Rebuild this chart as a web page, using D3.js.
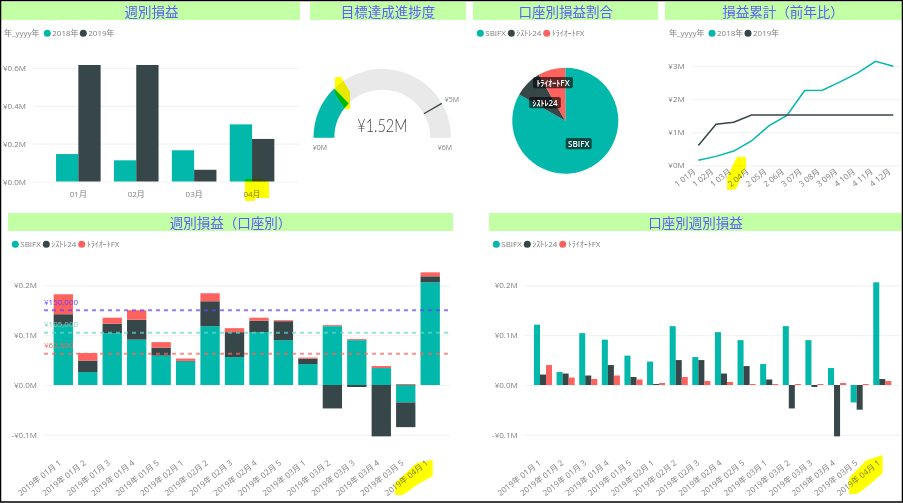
<!DOCTYPE html>
<html>
<head>
<meta charset="utf-8">
<script src="https://cdn.jsdelivr.net/npm/d3@7"></script>
<style>
html, body { margin: 0; padding: 0; background: #fff; }
svg { display: block; }
text { font-family: "Open Sans", "Noto Sans CJK JP", sans-serif; font-size: 8px; fill: #808080; }
.title { font-family: "Noto Sans CJK JP", sans-serif; font-size: 13.5px; font-weight: 400; fill: #5c5cff; text-anchor: middle; }
.axis .domain { display: none; }
.axis .tick line { stroke: #f3f3f3; stroke-width: 1.2; }
.highlight { fill: #ffff00; mix-blend-mode: multiply; }
</style>
</head>
<body>
<svg id="chart" width="903" height="503"></svg>
<script>
// monthly, by year
var months = ["01月", "02月", "03月", "04月"];
var years = ["2018年", "2019年"];
var monthly2018 = [0.145, 0.112, 0.165, 0.302];
var monthly2019 = [0.616, 0.616, 0.062, 0.225];
var monthlyTicks = [0, 0.2, 0.4, 0.6];

// gauge
var gaugeValue = 1.52;
var gaugeTarget = 5;
var gaugeMax = 6;

// account share
var accounts = ["SBIFX", "ｼｽﾄﾚ24", "ﾄﾗｲｵｰﾄFX"];
var accountShare = [1.265, 0.128, 0.127];

// cumulative
var cumMonths = ["1 01月", "1 02月", "1 03月", "2 04月", "2 05月", "2 06月", "3 07月", "3 08月", "3 09月", "4 10月", "4 11月", "4 12月"];
var cum2018 = [0.15, 0.27, 0.43, 0.735, 1.2, 1.51, 2.26, 2.27, 2.52, 2.79, 3.14, 2.99];
var cum2019 = [0.6, 1.24, 1.3, 1.52, 1.52, 1.52, 1.52, 1.52, 1.52, 1.52, 1.52, 1.52];
var cumTicks = [0, 1, 2, 3];

// weekly, by account
var weeks = ["2019年 01月 1", "2019年 01月 2", "2019年 01月 3", "2019年 01月 4", "2019年 01月 5",
	"2019年 02月 1", "2019年 02月 2", "2019年 02月 3", "2019年 02月 4", "2019年 02月 5",
	"2019年 03月 1", "2019年 03月 2", "2019年 03月 3", "2019年 03月 4", "2019年 03月 5", "2019年 04月 1"];
var weeklySbi = [0.121, 0.026, 0.104, 0.091, 0.059, 0.047, 0.118, 0.056, 0.106, 0.090, 0.042, 0.118, 0.090, 0.034, -0.035, 0.206];
var weeklySys = [0.021, 0.023, 0.019, 0.040, 0.016, 0.002, 0.050, 0.050, 0.023, 0.038, 0.011, -0.047, -0.004, -0.103, -0.0495, 0.012];
var weeklyTri = [0.040, 0.015, 0.012, 0.019, 0.011, 0.004, 0.016, 0.008, 0.006, 0.002, 0.002, 0.002, 0.002, 0.004, 0.002, 0.008];
var weeklyTicks = [-0.1, 0, 0.1, 0.2];

// reference lines
var refValues = [0.150, 0.105, 0.0625];
var refLabels = ["¥150,000", "¥105,000", "¥62,500"];

var teal = "#01b8aa", dark = "#374649", red = "#fd625e";
var accountColors = [teal, dark, red];
var yearColors = [teal, dark];
var refColors = ["#6a3fff", "#5fd8cc", "#fd625e"];
var refTextColors = ["#6a3fff", "#7fcdb8", "#fd625e"];

var svg = d3.select("#chart");

function fmtM1(d) { return (d < 0 ? "-" : "") + "¥" + Math.abs(d).toFixed(1) + "M"; }
function fmtM0(d) { return "¥" + d + "M"; }

function title(text, x0, x1, y0, y1, tx) {
	svg.append("rect").attr("x", x0).attr("y", y0).attr("width", x1 - x0).attr("height", y1 - y0).attr("fill", "#c2ffa5");
	svg.append("text").attr("class", "title").attr("x", tx).attr("y", y0 + 14.5).text(text);
}

function legend(y, head, items) {
	if (head) svg.append("text").attr("x", head).attr("y", y + 3).text("年_yyyy年");
	items.forEach(function(d) {
		svg.append("circle").attr("cx", d.cx).attr("cy", y).attr("r", 3.5).attr("fill", d.color);
		svg.append("text").attr("x", d.cx + 5).attr("y", y + 3).text(d.label);
	});
}

function yAxis(scale, ticks, fmt, x0, x1) {
	var g = svg.append("g").attr("class", "axis").attr("transform", "translate(" + x0 + ",0)")
		.call(d3.axisLeft(scale).tickValues(ticks).tickFormat(fmt).tickSize(x0 - x1).tickPadding(7));
	g.selectAll("text").attr("fill", null);
	return g;
}

function slantLabels(labels, xFn, y) {
	svg.append("g").selectAll("text").data(labels).enter().append("text")
		.attr("text-anchor", "end")
		.attr("transform", function(d) { return "translate(" + xFn(d) + "," + y + ") rotate(-38)"; })
		.text(function(d) { return d; });
}

// ---- monthly bars
var m1x = d3.scaleBand().domain(months).range([49.4, 281]).paddingInner(0.23).paddingOuter(0.115);
var m1y = d3.scaleLinear().domain([0, 0.6]).range([181.5, 68]);
title("週別損益", 1, 300, 2, 20, 151.6);
legend(33.3, 4, [
	{ cx: 47.3, color: teal, label: years[0] },
	{ cx: 83.3, color: dark, label: years[1] }
]);
yAxis(m1y, monthlyTicks, fmtM1, 33, 299);
[monthly2018, monthly2019].forEach(function(series, s) {
	svg.append("g").selectAll("rect").data(series).enter().append("rect")
		.attr("x", function(d, i) { return m1x(months[i]) + s * m1x.bandwidth() / 2; })
		.attr("width", m1x.bandwidth() / 2)
		.attr("y", function(d) { return m1y(d); })
		.attr("height", function(d) { return m1y(0) - m1y(d); })
		.attr("fill", yearColors[s]);
});
svg.append("g").selectAll("text").data(months).enter().append("text")
	.attr("text-anchor", "middle")
	.attr("x", function(d) { return m1x(d) + m1x.bandwidth() / 2; })
	.attr("y", 197)
	.text(function(d) { return d; });

// ---- gauge
var gaugeX = 382.3, gaugeY = 137.7, gaugeIn = 48, gaugeOut = 68.7;
var gaugeAngle = d3.scaleLinear().domain([0, gaugeMax]).range([-Math.PI / 2, Math.PI / 2]);
var gaugeArc = d3.arc().innerRadius(gaugeIn).outerRadius(gaugeOut).startAngle(-Math.PI / 2);
title("目標達成進捗度", 310, 466, 2, 20, 388);
var gauge = svg.append("g").attr("transform", "translate(" + gaugeX + "," + gaugeY + ")");
gauge.append("path").attr("d", gaugeArc({ endAngle: gaugeAngle(gaugeMax) })).attr("fill", "#e9e9e9");
gauge.append("path").attr("d", gaugeArc({ endAngle: gaugeAngle(gaugeValue) })).attr("fill", teal);
var ta = gaugeAngle(gaugeTarget);
gauge.append("line")
	.attr("x1", gaugeIn * Math.sin(ta)).attr("y1", -gaugeIn * Math.cos(ta))
	.attr("x2", gaugeOut * Math.sin(ta)).attr("y2", -gaugeOut * Math.cos(ta))
	.attr("stroke", dark).attr("stroke-width", 1.3);
// the original number is in a narrow face, squeeze to the same width
svg.append("text").attr("x", gaugeX - 25).attr("y", 131.5)
	.attr("textLength", 50).attr("lengthAdjust", "spacingAndGlyphs")
	.style("font-family", "Lato, sans-serif").style("font-weight", 300).style("font-size", "18px").style("fill", "#444")
	.text("¥" + gaugeValue.toFixed(2) + "M");
svg.append("text").attr("x", 320).attr("y", 149.5).attr("text-anchor", "middle").style("font-size", "7px").text(fmtM0(0));
svg.append("text").attr("x", 445).attr("y", 149.5).attr("text-anchor", "middle").style("font-size", "7px").text(fmtM0(gaugeMax));
svg.append("text").attr("x", 452).attr("y", 102.3).attr("text-anchor", "middle").style("font-size", "7px").text(fmtM0(gaugeTarget));

// ---- pie
var pieX = 565.3, pieY = 120.7, pieR = 53;
var pieArcs = d3.pie().sort(null)(accountShare);
var pieArc = d3.arc().innerRadius(0).outerRadius(pieR);
title("口座別損益割合", 473, 658, 2, 20, 565.7);
legend(33.3, 0, [
	{ cx: 480.3, color: teal, label: accounts[0] },
	{ cx: 511.3, color: dark, label: accounts[1] },
	{ cx: 546.7, color: red, label: accounts[2] }
]);
svg.append("g").attr("transform", "translate(" + pieX + "," + pieY + ")")
	.selectAll("path").data(pieArcs).enter().append("path")
	.attr("d", pieArc)
	.attr("fill", function(d, i) { return accountColors[i]; });
// pie labels do not sit on the arc centroid, offsets
var pieLabelOffsets = [[13.4, 23], [-20.3, -18], [-12.3, -38]];
var pieLabelWidths = [26, 31.7, 40];
accounts.forEach(function(name, i) {
	var cx = pieX + pieLabelOffsets[i][0], cy = pieY + pieLabelOffsets[i][1];
	svg.append("rect").attr("x", cx - pieLabelWidths[i] / 2).attr("y", cy - 5.6)
		.attr("width", pieLabelWidths[i]).attr("height", 11.2).attr("rx", 2)
		.attr("fill", "#000").attr("fill-opacity", 0.6);
	svg.append("text").attr("x", cx).attr("y", cy + 3).attr("text-anchor", "middle")
		.style("fill", "#fff").style("font-weight", 600).text(name);
});

// ---- cumulative lines
var cx = d3.scalePoint().domain(cumMonths).range([698.3, 893.3]);
var cy = d3.scaleLinear().domain([0, 3]).range([165.3, 66]);
title("損益累計（前年比）", 665, 902, 2, 20, 783);
legend(33.3, 669, [
	{ cx: 712, color: teal, label: years[0] },
	{ cx: 748, color: dark, label: years[1] }
]);
yAxis(cy, cumTicks, fmtM0, 691.7, 900.7);
var cumLine = d3.line().x(function(d, i) { return cx(cumMonths[i]); }).y(function(d) { return cy(d); });
[cum2018, cum2019].forEach(function(series, s) {
	svg.append("path").attr("d", cumLine(series)).attr("fill", "none")
		.attr("stroke", yearColors[s]).attr("stroke-width", 1.5);
});
slantLabels(cumMonths, function(d) { return cx(d) - 2; }, 172.5);

// ---- weekly stacked
var sx = d3.scaleBand().domain(weeks).range([51.07, 442.43]).paddingInner(0.21).paddingOuter(0.105);
var wy = d3.scaleLinear().domain([-0.1, 0.2]).range([434.85, 285.3]);
title("週別損益（口座別）", 8, 453, 213, 231, 230.5);
legend(244.3, 0, [
	{ cx: 15.3, color: teal, label: accounts[0] },
	{ cx: 46.3, color: dark, label: accounts[1] },
	{ cx: 81.7, color: red, label: accounts[2] }
]);
yAxis(wy, weeklyTicks, fmtM1, 44, 449.3);
var weekRows = weeks.map(function(w, i) { return { week: w, a: weeklySbi[i], b: weeklySys[i], c: weeklyTri[i] }; });
var stacked = d3.stack().keys(["a", "b", "c"]).offset(d3.stackOffsetDiverging)(weekRows);
svg.append("g").selectAll("g").data(stacked).enter().append("g")
	.attr("fill", function(d, i) { return accountColors[i]; })
	.selectAll("rect").data(function(d) { return d; }).enter().append("rect")
	.attr("x", function(d) { return sx(d.data.week); })
	.attr("width", sx.bandwidth())
	.attr("y", function(d) { return wy(Math.max(d[0], d[1])); })
	.attr("height", function(d) { return Math.abs(wy(d[0]) - wy(d[1])); });
refValues.forEach(function(v, i) {
	svg.append("line").attr("x1", 44).attr("x2", 449.3).attr("y1", wy(v)).attr("y2", wy(v))
		.attr("stroke", refColors[i]).attr("stroke-width", 2).attr("stroke-dasharray", "4 4").attr("stroke-opacity", 0.7);
	svg.append("text").attr("x", 44).attr("y", wy(v) - 5.5).style("fill", refTextColors[i]).text(refLabels[i]);
});
slantLabels(weeks, function(d) { return sx(d) + sx.bandwidth() / 2 - 1.5; }, 464);

// ---- weekly grouped
var gx = d3.scaleBand().domain(weeks).range([531.7, 893.6]).paddingInner(0.2).paddingOuter(0.1);
var gInner = d3.scaleBand().domain([0, 1, 2]).range([0, gx.bandwidth()]);
title("口座別週別損益", 489, 902, 213, 231, 695.5);
legend(244.3, 0, [
	{ cx: 496.3, color: teal, label: accounts[0] },
	{ cx: 527.3, color: dark, label: accounts[1] },
	{ cx: 562.7, color: red, label: accounts[2] }
]);
yAxis(wy, weeklyTicks, fmtM1, 524.7, 900);
[weeklySbi, weeklySys, weeklyTri].forEach(function(series, s) {
	svg.append("g").selectAll("rect").data(series).enter().append("rect")
		.attr("x", function(d, i) { return gx(weeks[i]) + gInner(s); })
		.attr("width", gInner.bandwidth())
		.attr("y", function(d) { return wy(Math.max(d, 0)); })
		.attr("height", function(d) { return Math.abs(wy(d) - wy(0)); })
		.attr("fill", accountColors[s]);
});
slantLabels(weeks, function(d) { return gx(d) + gx.bandwidth() / 2 - 1.5; }, 464);

// ---- yellow marker strokes someone painted over the screenshot
var markerStrokes = [
	[[245, 179], [260, 179], [269, 182], [269, 198], [255, 198], [255, 201], [245, 201]],
	[[335, 77], [341, 77], [350, 92], [350, 109], [345, 109], [335, 93]],
	[[737, 157], [746, 157], [746, 167], [736, 189], [727, 190], [727, 177]],
	[[432.7, 460], [432.7, 476], [416.7, 485], [403, 495], [395, 495], [395, 483], [416.7, 463]],
	[[882.7, 455], [882.7, 473], [866.7, 487], [856.7, 494], [849, 494], [849, 478], [866.7, 460]]
];
svg.selectAll("polygon.highlight").data(markerStrokes).enter().append("polygon")
	.attr("class", "highlight")
	.attr("points", function(d) { return d.join(" "); });

// outer frame
svg.append("rect").attr("x", 0.5).attr("y", 0.5).attr("width", 902).attr("height", 501.5)
	.attr("fill", "none").attr("stroke", "#000").attr("stroke-width", 1.5);
</script>
</body>
</html>
